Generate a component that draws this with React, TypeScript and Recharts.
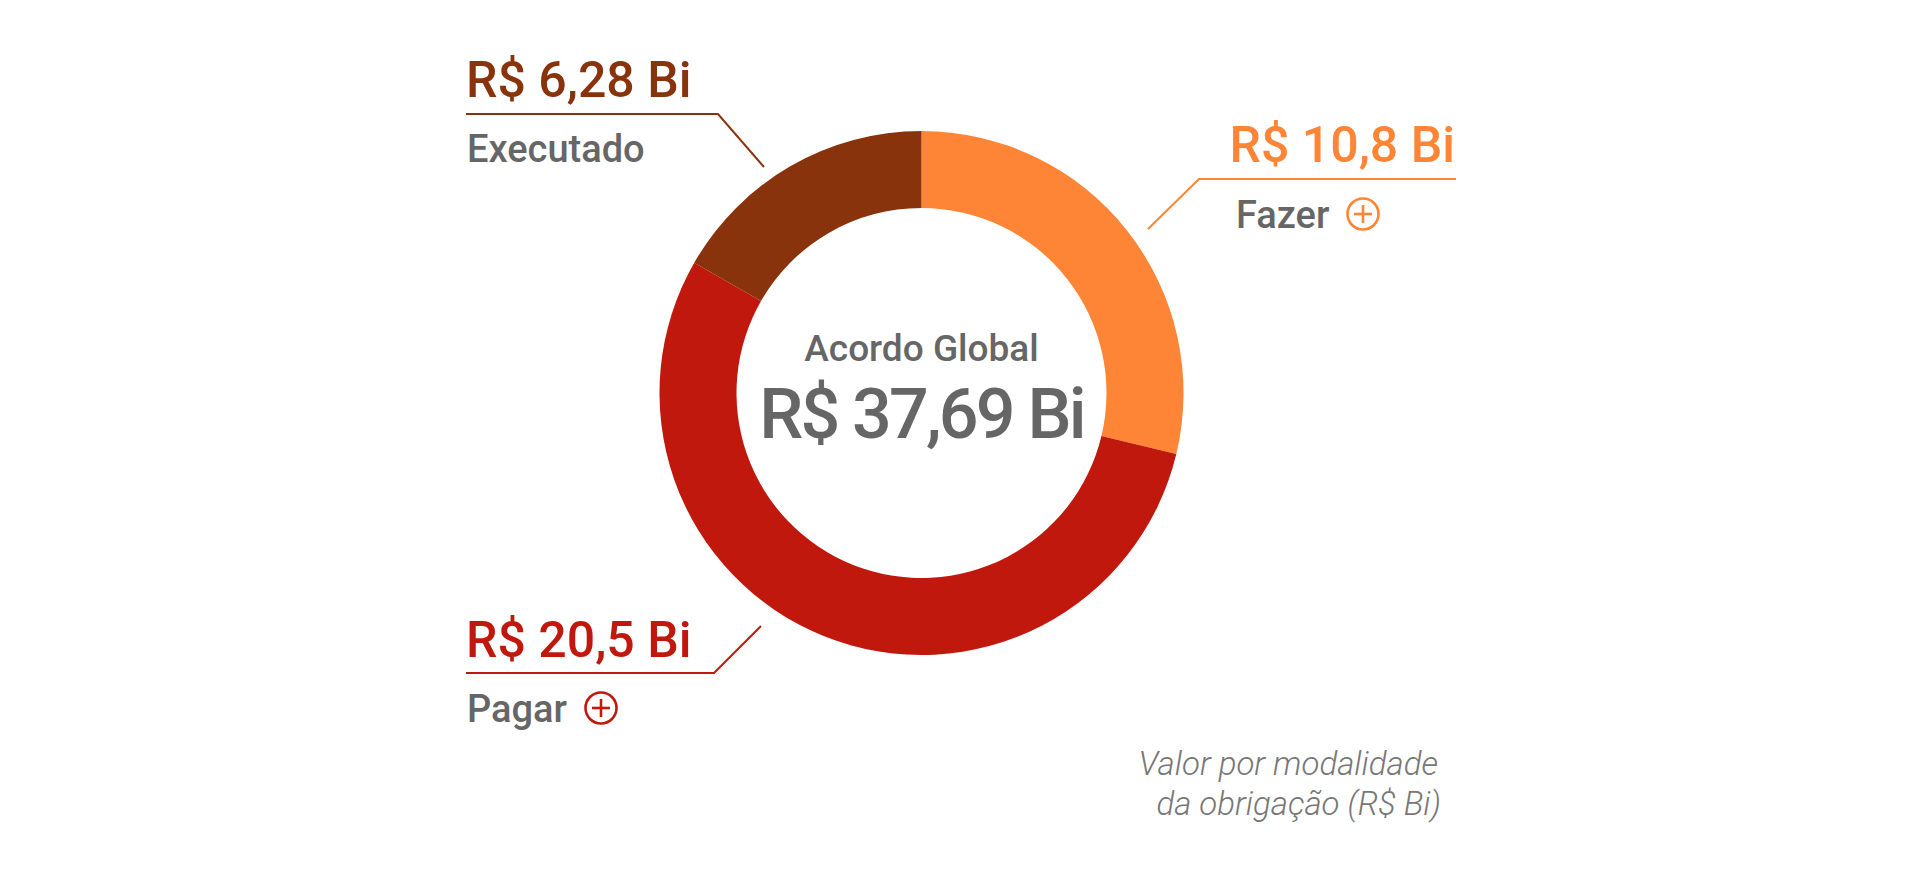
import React from 'react';
import { PieChart, Pie, Cell } from 'recharts';

const categories = ['Fazer', 'Pagar', 'Executado'];
const values = [10.8, 20.5, 6.28];
const valueLabels = ['R$ 10,8 Bi', 'R$ 20,5 Bi', 'R$ 6,28 Bi'];
const colors = ['#FD8535', '#C1180D', '#89330C'];
const centerTitle = 'Acordo Global';
const centerValue = 'R$ 37,69 Bi';
const footnote = ['Valor por modalidade', 'da obrigação (R$ Bi)'];

const data = categories.map((name, i) => ({ name, value: values[i] }));

const FONT = 'Roboto, "Noto Sans", sans-serif';
const GRAY = '#666666';

function PlusIcon({ x, y, color }: { x: number; y: number; color: string }) {
  return (
    <g>
      <circle cx={x} cy={y} r={15.5} fill="none" stroke={color} strokeWidth={2.6} />
      <line x1={x - 9} y1={y} x2={x + 9} y2={y} stroke={color} strokeWidth={2.6} />
      <line x1={x} y1={y - 9} x2={x} y2={y + 9} stroke={color} strokeWidth={2.6} />
    </g>
  );
}

export default function App() {
  return (
    <div style={{ position: 'absolute', left: 0, top: 0, width: 1922, height: 870, background: '#fff' }}>
      <PieChart width={1922} height={870} margin={{ top: 0, right: 0, bottom: 0, left: 0 }}>
        <Pie
          data={data}
          dataKey="value"
          nameKey="name"
          cx={921.5}
          cy={393}
          innerRadius={185}
          outerRadius={262}
          startAngle={90}
          endAngle={-270}
          stroke="none"
          isAnimationActive={false}
        >
          {data.map((d, i) => (
            <Cell key={d.name} fill={colors[i]} />
          ))}
        </Pie>
      </PieChart>
      <svg
        width={1922}
        height={870}
        style={{ position: 'absolute', left: 0, top: 0, pointerEvents: 'none' }}
        fontFamily={FONT}
      >
        {/* center */}
        <text x={921.5} y={361} textAnchor="middle" fontSize={37} fontWeight={500} fill={GRAY}>
          {centerTitle}
        </text>
        <text x={921.5} y={438} textAnchor="middle" fontSize={70} fontWeight={500} letterSpacing={-2.8} fill={GRAY}>
          {centerValue}
        </text>

        {/* Executado */}
        <text x={466} y={97} fontSize={50} fontWeight={500} fill={colors[2]}>
          {valueLabels[2]}
        </text>
        <polyline points="466,114 718,114 764,167" fill="none" stroke={colors[2]} strokeWidth={2} />
        <text x={467} y={162} fontSize={38} fontWeight={500} fill={GRAY}>
          {categories[2]}
        </text>

        {/* Fazer */}
        <text x={1455} y={162} textAnchor="end" fontSize={50} fontWeight={500} fill={colors[0]}>
          {valueLabels[0]}
        </text>
        <polyline points="1148,229 1199,179 1456,179" fill="none" stroke={colors[0]} strokeWidth={2} />
        <text x={1236} y={228} fontSize={38} fontWeight={500} fill={GRAY}>
          {categories[0]}
        </text>
        <PlusIcon x={1363} y={214} color={colors[0]} />

        {/* Pagar */}
        <text x={466} y={657} fontSize={50} fontWeight={500} fill={colors[1]}>
          {valueLabels[1]}
        </text>
        <polyline points="466,673 714,673 761,626" fill="none" stroke={colors[1]} strokeWidth={2} />
        <text x={467} y={722} fontSize={38} fontWeight={500} fill={GRAY}>
          {categories[1]}
        </text>
        <PlusIcon x={601} y={708} color={colors[1]} />

        {/* footnote */}
        <text x={1438} y={775} textAnchor="end" fontSize={33} fontStyle="italic" fontWeight={300} fill="#777">
          {footnote[0]}
        </text>
        <text x={1441} y={815} textAnchor="end" fontSize={33} fontStyle="italic" fontWeight={300} fill="#777">
          {footnote[1]}
        </text>
      </svg>
    </div>
  );
}
